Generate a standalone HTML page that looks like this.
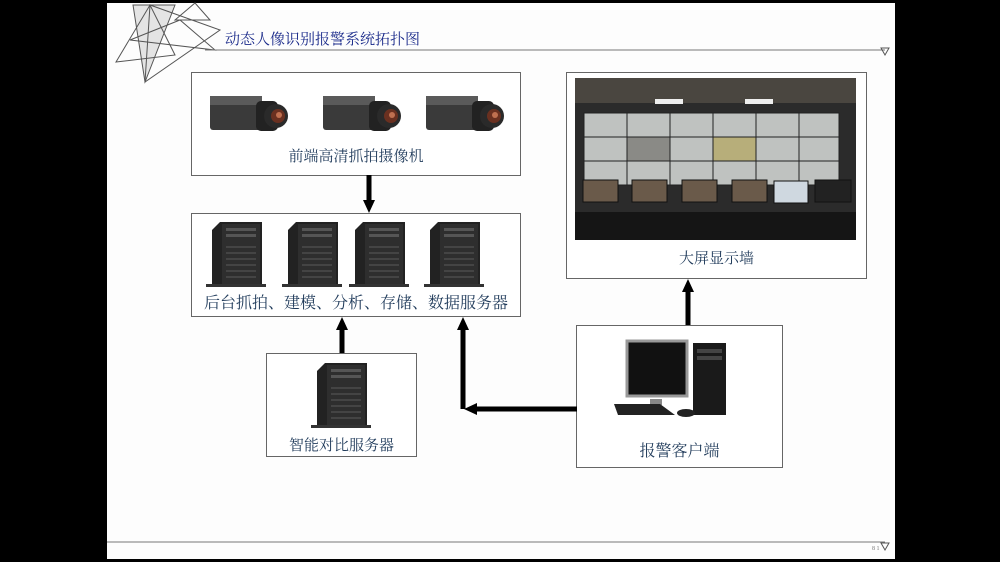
<!DOCTYPE html>
<html><head><meta charset="utf-8"><style>
body{margin:0;width:1000px;height:562px;background:#000;overflow:hidden;position:relative;font-family:"Liberation Serif","Noto Serif CJK SC",serif}
.slide{position:absolute;left:107px;top:3px;width:788px;height:556px;background:#fdfdfd}
.box{position:absolute;border:1px solid #666;background:#fff}
.lbl{position:absolute;width:100%;text-align:center;color:#1f3a5a;font-size:15px;font-family:"Noto Serif CJK SC","Liberation Serif",serif}
svg{position:absolute;left:0;top:0}
</style></head><body>
<div class="slide"></div>
<svg width="1000" height="562">
<defs>
<g id="cam"><rect x="0" y="3" width="52" height="34" rx="3" fill="#3a3a3a"/><rect x="0" y="3" width="52" height="9" fill="#5a5a5a"/><rect x="46" y="8" width="22" height="30" rx="5" fill="#222"/><circle cx="66" cy="23" r="12" fill="#2a2a2a"/><circle cx="68" cy="23" r="7" fill="#6a3020"/><circle cx="69" cy="22" r="3" fill="#c07050"/></g>
<g id="srv"><polygon points="0,8 8,0 50,0 50,64 0,64" fill="#222"/><rect x="10" y="2" width="38" height="60" fill="#2e2e2e"/><rect x="14" y="6" width="30" height="3" fill="#555"/><rect x="14" y="12" width="30" height="3" fill="#555"/><g fill="#444"><rect x="14" y="24" width="30" height="2"/><rect x="14" y="30" width="30" height="2"/><rect x="14" y="36" width="30" height="2"/><rect x="14" y="42" width="30" height="2"/><rect x="14" y="48" width="30" height="2"/><rect x="14" y="54" width="30" height="2"/></g><rect x="-6" y="62" width="60" height="3" fill="#333"/></g>
</defs>
<g fill="none" stroke="#555" stroke-width="1">
<polygon points="133,5 175,5 145,82" fill="#e4e4e4"/>
<polygon points="116,62 150,5 175,55"/>
<polygon points="130,40 215,50 180,20"/>
<polygon points="175,20 195,3 210,20"/>
<polygon points="145,82 150,5 220,30"/>
</g>
<line x1="205" y1="50" x2="885" y2="50" stroke="#777"/>
<polygon points="881,48 889,48 885,55" fill="none" stroke="#555"/>
<text x="225" y="44" font-size="15" fill="#1a2a8a" font-family="Noto Serif CJK SC,Liberation Serif,serif">动态人像识别报警系统拓扑图</text>
<line x1="107" y1="542" x2="885" y2="542" stroke="#777"/>
<polygon points="881,543 889,543 885,550" fill="none" stroke="#555"/>
<text x="872" y="550" font-size="6" fill="#777">8 1</text>
</svg>
<div class="box" style="left:191px;top:72px;width:328px;height:102px"><div class="lbl" style="top:72px">前端高清抓拍摄像机</div></div>
<div class="box" style="left:191px;top:213px;width:328px;height:102px"><div class="lbl" style="top:76px;font-size:16px">后台抓拍、建模、分析、存储、数据服务器</div></div>
<div class="box" style="left:266px;top:353px;width:149px;height:102px"><div class="lbl" style="top:80px">智能对比服务器</div></div>
<div class="box" style="left:566px;top:72px;width:299px;height:205px"><div class="lbl" style="top:174px">大屏显示墙</div></div>
<div class="box" style="left:576px;top:325px;width:205px;height:141px"><div class="lbl" style="top:112px;font-size:16px">报警客户端</div></div>
<svg width="1000" height="562">
<use href="#cam" x="210" y="93"/><use href="#cam" x="323" y="93"/><use href="#cam" x="426" y="93"/>
<use href="#srv" x="212" y="222"/><use href="#srv" x="288" y="222"/><use href="#srv" x="355" y="222"/><use href="#srv" x="430" y="222"/>
<use href="#srv" x="317" y="363"/>
<rect x="575" y="78" width="281" height="162" fill="#2b2b2b"/>
<rect x="575" y="78" width="281" height="25" fill="#4a4640"/>
<rect x="655" y="99" width="28" height="5" fill="#eee"/><rect x="745" y="99" width="28" height="5" fill="#eee"/>
<g fill="#bfc2c0" stroke="#222" stroke-width="1">
<rect x="584" y="113" width="43" height="24"/><rect x="627" y="113" width="43" height="24"/><rect x="670" y="113" width="43" height="24"/><rect x="713" y="113" width="43" height="24"/><rect x="756" y="113" width="43" height="24"/><rect x="799" y="113" width="40" height="24"/>
<rect x="584" y="137" width="43" height="24"/><rect x="627" y="137" width="43" height="24" fill="#8a8a86"/><rect x="670" y="137" width="43" height="24"/><rect x="713" y="137" width="43" height="24" fill="#b7ae7a"/><rect x="756" y="137" width="43" height="24"/><rect x="799" y="137" width="40" height="24"/>
<rect x="584" y="161" width="43" height="24"/><rect x="627" y="161" width="43" height="24"/><rect x="670" y="161" width="43" height="24"/><rect x="713" y="161" width="43" height="24"/><rect x="756" y="161" width="43" height="24"/><rect x="799" y="161" width="40" height="24"/>
</g>
<g fill="#6a5a4a" stroke="#111"><rect x="583" y="180" width="35" height="22"/><rect x="632" y="180" width="35" height="22"/><rect x="682" y="180" width="35" height="22"/><rect x="732" y="180" width="35" height="22"/><rect x="774" y="181" width="34" height="22" fill="#cfd8e0"/><rect x="815" y="180" width="36" height="22" fill="#222"/></g>
<rect x="575" y="212" width="281" height="28" fill="#151515"/>
<rect x="627" y="341" width="60" height="55" fill="#111" stroke="#999" stroke-width="3"/>
<rect x="650" y="399" width="12" height="6" fill="#888"/>
<rect x="693" y="343" width="33" height="72" fill="#1a1a1a"/><rect x="697" y="349" width="25" height="4" fill="#444"/><rect x="697" y="356" width="25" height="4" fill="#444"/>
<polygon points="614,404 660,404 675,415 618,415" fill="#222"/>
<ellipse cx="686" cy="413" rx="9" ry="4" fill="#222"/>
<g stroke="#000" stroke-width="5" fill="#000">
<line x1="369" y1="175" x2="369" y2="202"/><polygon points="363,200 375,200 369,213" stroke="none"/>
<line x1="342" y1="353" x2="342" y2="328"/><polygon points="336,330 348,330 342,317" stroke="none"/>
<line x1="577" y1="409" x2="475" y2="409"/><polygon points="477,403 477,415 464,409" stroke="none"/>
<line x1="463" y1="409" x2="463" y2="328"/><polygon points="457,330 469,330 463,317" stroke="none"/>
<line x1="688" y1="325" x2="688" y2="290"/><polygon points="682,292 694,292 688,279" stroke="none"/>
</g>
</svg>
</body></html>
